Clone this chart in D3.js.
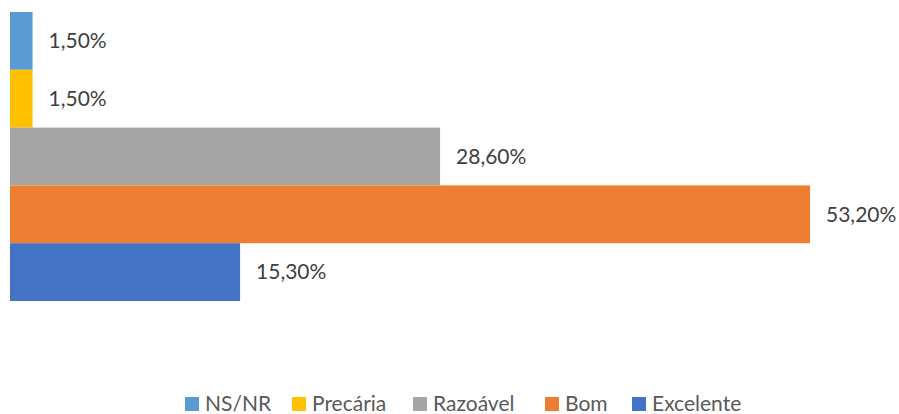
<!DOCTYPE html>
<html><head><meta charset="utf-8">
<script src="https://cdn.jsdelivr.net/npm/d3@7"></script>
<style>html,body{margin:0;padding:0;background:#fff;}svg{display:block;}</style>
</head><body>
<script>
const categories = ["NS/NR", "Precária", "Razoável", "Bom", "Excelente"];
const values = [1.5, 1.5, 28.6, 53.2, 15.3];
const colors = ["#5B9BD5", "#FFC000", "#A5A5A5", "#ED7D31", "#4472C4"];
const labels = ["1,50%", "1,50%", "28,60%", "53,20%", "15,30%"];

const W = 899, H = 414;
const font = "Lato, 'Open Sans', sans-serif";
const svg = d3.select("body").append("svg").attr("width", W).attr("height", H);

const x = d3.scaleLinear().domain([0, 53.2]).range([10, 810]);
const y = d3.scaleBand().domain(categories).range([12, 301]).padding(0);

svg.selectAll("rect.bar").data(categories).join("rect")
  .attr("class", "bar")
  .attr("x", x(0))
  .attr("y", d => y(d))
  .attr("width", (d, i) => x(values[i]) - x(0))
  .attr("height", y.bandwidth())
  .attr("fill", (d, i) => colors[i]);

svg.selectAll("text.lbl").data(categories).join("text")
  .attr("class", "lbl")
  .attr("x", (d, i) => x(values[i]) + 16)
  .attr("y", d => y(d) + y.bandwidth() / 2)
  .attr("dy", "0.35em")
  .attr("font-family", font)
  .attr("font-size", 21)
  .attr("fill", "#404040")
  .text((d, i) => labels[i]);

// legend
const legendX = [185, 292, 413, 545, 632];
const lg = svg.append("g");
categories.forEach((c, i) => {
  const g = lg.append("g").attr("transform", `translate(${legendX[i]},0)`);
  g.append("rect").attr("x", 0).attr("y", 397).attr("width", 14).attr("height", 14).attr("fill", colors[i]);
  g.append("text").attr("x", 20).attr("y", 404).attr("dy", "0.35em")
    .attr("font-family", font).attr("font-size", 21).attr("fill", "#595959").text(c);
});
</script>
</body></html>
